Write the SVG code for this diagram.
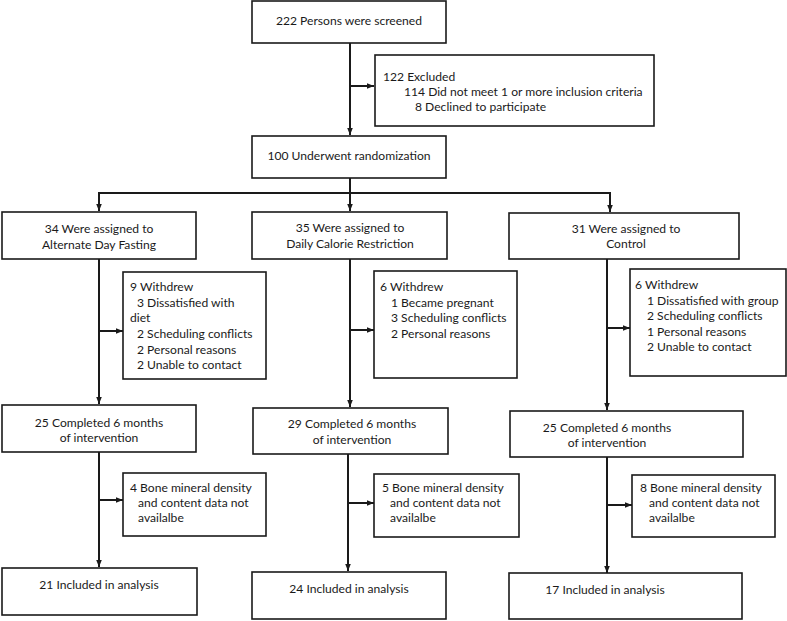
<svg xmlns="http://www.w3.org/2000/svg" width="787" height="621" viewBox="0 0 787 621">
<defs>
<style>
rect.b{fill:#fff;stroke:#1a1a1a;stroke-width:1.6}
text{font-family:Lato,"Open Sans","Liberation Sans",sans-serif;font-size:12.1px;fill:#1a1a1a}
.c{text-anchor:middle}
.ln{fill:none;stroke:#1a1a1a;stroke-width:2}
</style>
<marker id="ah" viewBox="0 0 10 10" refX="10" refY="5" markerWidth="7" markerHeight="7" markerUnits="userSpaceOnUse" orient="auto">
<path d="M0,1 L10,5 L0,9 z" fill="#1a1a1a"/>
</marker>
</defs>
<rect width="787" height="621" fill="#fff"/>
<g id="connectors">
<path class="ln" d="M350,43 V135" marker-end="url(#ah)"/>
<path class="ln" d="M350,86 H374" marker-end="url(#ah)"/>
<path class="ln" d="M350,178 V193"/>
<path class="ln" d="M99,193 H610"/>
<path class="ln" d="M99,192 V211" marker-end="url(#ah)"/>
<path class="ln" d="M350,193 V211" marker-end="url(#ah)"/>
<path class="ln" d="M610,192 V212" marker-end="url(#ah)"/>
<path class="ln" d="M99,259 V404" marker-end="url(#ah)"/>
<path class="ln" d="M99,331 H123" marker-end="url(#ah)"/>
<path class="ln" d="M350,259 V407" marker-end="url(#ah)"/>
<path class="ln" d="M350,330 H374" marker-end="url(#ah)"/>
<path class="ln" d="M607,259 V410" marker-end="url(#ah)"/>
<path class="ln" d="M607,328 H630" marker-end="url(#ah)"/>
<path class="ln" d="M99,452 V567" marker-end="url(#ah)"/>
<path class="ln" d="M99,500 H123" marker-end="url(#ah)"/>
<path class="ln" d="M348,454 V571" marker-end="url(#ah)"/>
<path class="ln" d="M348,503 H374" marker-end="url(#ah)"/>
<path class="ln" d="M607,457 V573" marker-end="url(#ah)"/>
<path class="ln" d="M607,505 H632" marker-end="url(#ah)"/>
</g>
<g id="screened">
<rect class="b" x="252" y="1" width="194" height="42"/>
<text class="c" x="349" y="25">222 Persons were screened</text>
</g>
<g id="excluded">
<rect class="b" x="375" y="55" width="279" height="71"/>
<text x="383" y="81">122 Excluded</text>
<text x="404" y="96">114 Did not meet 1 or more inclusion criteria</text>
<text x="415" y="111">8 Declined to participate</text>
</g>
<g id="randomization">
<rect class="b" x="252" y="136" width="194" height="42"/>
<text class="c" x="349" y="160">100 Underwent randomization</text>
</g>
<g id="adf">
<rect class="b" x="2" y="212" width="194" height="47"/>
<text class="c" x="99" y="233">34 Were assigned to</text>
<text class="c" x="99" y="249">Alternate Day Fasting</text>
</g>
<g id="dcr">
<rect class="b" x="252" y="212" width="195" height="47"/>
<text class="c" x="350" y="232">35 Were assigned to</text>
<text class="c" x="350" y="248">Daily Calorie Restriction</text>
</g>
<g id="control">
<rect class="b" x="509" y="213" width="230" height="46"/>
<text class="c" x="626" y="233">31 Were assigned to</text>
<text class="c" x="626" y="248">Control</text>
</g>
<g id="adf-withdrew">
<rect class="b" x="123" y="272" width="143" height="107"/>
<text x="130" y="291">9 Withdrew</text>
<text x="137" y="307">3 Dissatisfied with</text>
<text x="130" y="322">diet</text>
<text x="137" y="338">2 Scheduling conflicts</text>
<text x="137" y="354">2 Personal reasons</text>
<text x="137" y="369">2 Unable to contact</text>
</g>
<g id="dcr-withdrew">
<rect class="b" x="374" y="271" width="143" height="107"/>
<text x="380" y="291">6 Withdrew</text>
<text x="391" y="307">1 Became pregnant</text>
<text x="391" y="322">3 Scheduling conflicts</text>
<text x="391" y="338">2 Personal reasons</text>
</g>
<g id="control-withdrew">
<rect class="b" x="630" y="269" width="156" height="107"/>
<text x="635" y="289">6 Withdrew</text>
<text x="647" y="305">1 Dissatisfied with group</text>
<text x="647" y="320">2 Scheduling conflicts</text>
<text x="647" y="336">1 Personal reasons</text>
<text x="647" y="351">2 Unable to contact</text>
</g>
<g id="adf-completed">
<rect class="b" x="2" y="405" width="194" height="47"/>
<text class="c" x="99" y="427">25 Completed 6 months</text>
<text class="c" x="99" y="442">of intervention</text>
</g>
<g id="dcr-completed">
<rect class="b" x="253" y="408" width="195" height="46"/>
<text class="c" x="352" y="428">29 Completed 6 months</text>
<text class="c" x="352" y="444">of intervention</text>
</g>
<g id="control-completed">
<rect class="b" x="510" y="411" width="233" height="46"/>
<text class="c" x="607" y="432">25 Completed 6 months</text>
<text class="c" x="607" y="447">of intervention</text>
</g>
<g id="adf-bmd">
<rect class="b" x="123" y="473" width="143" height="63"/>
<text x="130" y="492">4 Bone mineral density</text>
<text x="138" y="507">and content data not</text>
<text x="138" y="522">availalbe</text>
</g>
<g id="dcr-bmd">
<rect class="b" x="374" y="474" width="145" height="63"/>
<text x="382" y="492">5 Bone mineral density</text>
<text x="390" y="507">and content data not</text>
<text x="390" y="522">availalbe</text>
</g>
<g id="control-bmd">
<rect class="b" x="632" y="475" width="143" height="62"/>
<text x="640" y="492">8 Bone mineral density</text>
<text x="649" y="507">and content data not</text>
<text x="649" y="522">availalbe</text>
</g>
<g id="adf-included">
<rect class="b" x="2" y="568" width="195" height="47"/>
<text class="c" x="99" y="589">21 Included in analysis</text>
</g>
<g id="dcr-included">
<rect class="b" x="252" y="572" width="194" height="47"/>
<text class="c" x="349" y="593">24 Included in analysis</text>
</g>
<g id="control-included">
<rect class="b" x="509" y="573" width="233" height="46"/>
<text class="c" x="605" y="594">17 Included in analysis</text>
</g>
</svg>
